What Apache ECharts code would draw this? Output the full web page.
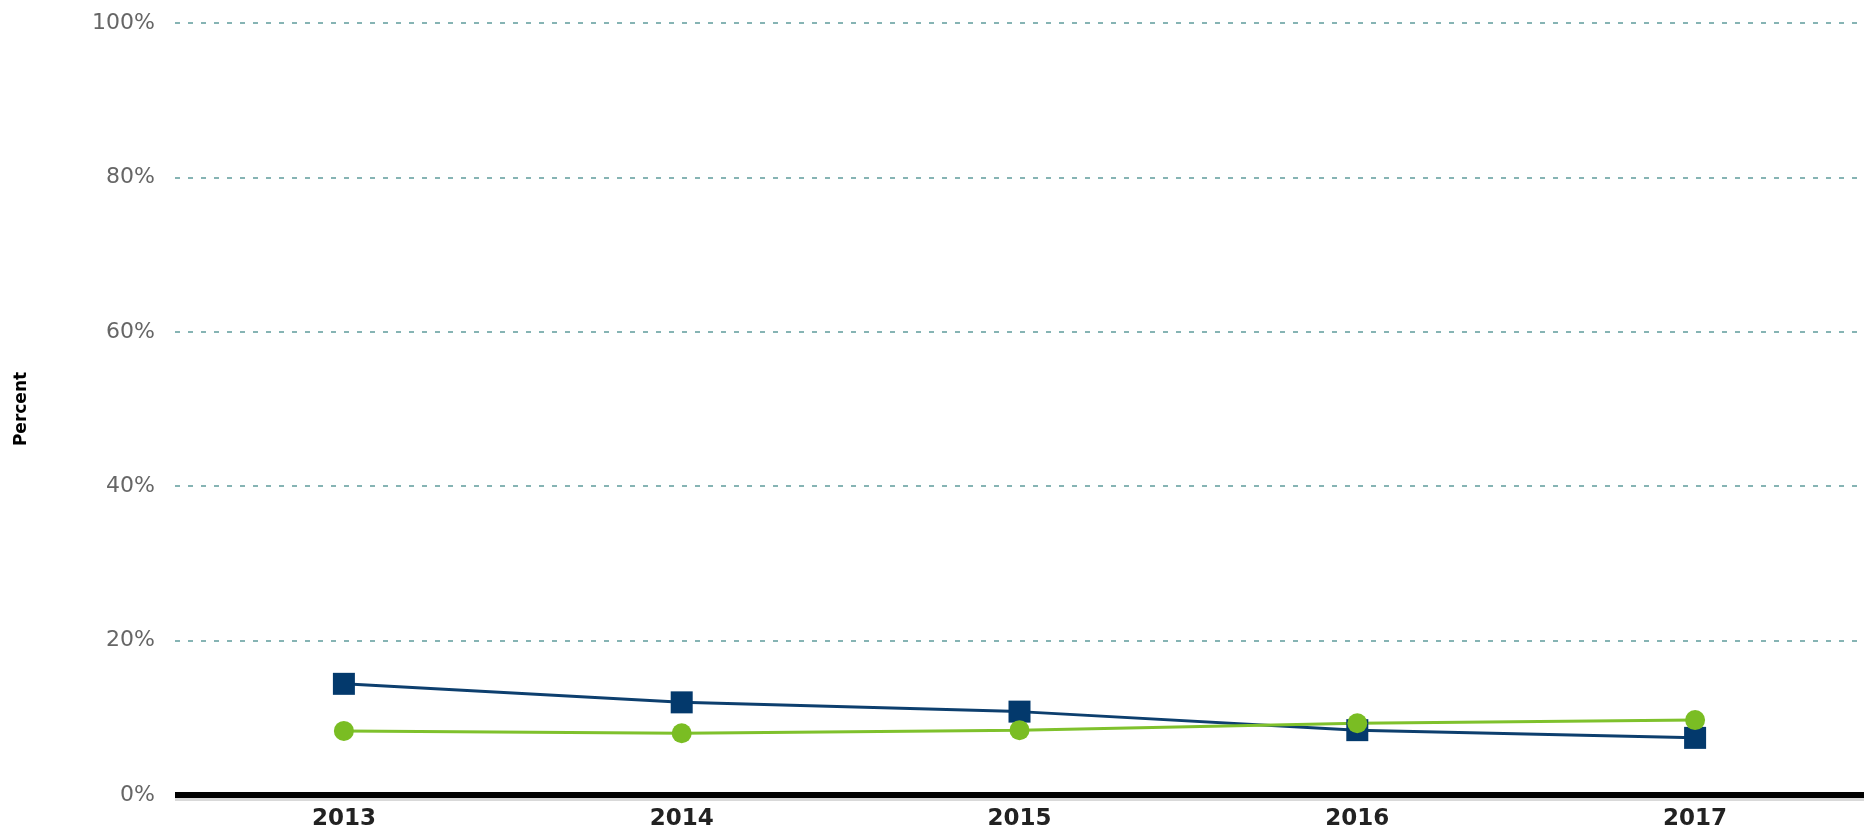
<!DOCTYPE html>
<html>
<head>
<meta charset="utf-8">
<script src="https://cdn.jsdelivr.net/npm/echarts@6/dist/echarts.min.js"></script>
<style>
  html, body { margin: 0; padding: 0; background: #fff; }
  #chart { width: 1872px; height: 835px; }
</style>
</head>
<body>
<div id="chart"></div>
<script>
// data
var years = ['2013', '2014', '2015', '2016', '2017'];
var navySeries = [14.4, 12.0, 10.8, 8.4, 7.4];
var greenSeries = [8.3, 8.0, 8.4, 9.3, 9.7];
var yTicks = [0, 20, 40, 60, 80, 100];

var chart = echarts.init(document.getElementById('chart'));

var option = {
    animation: false,
    grid: {
        left: 175,
        right: 8,
        top: 23,
        bottom: 40
    },
    xAxis: {
        type: 'category',
        data: years,
        boundaryGap: true,
        axisTick: { show: false },
        axisLine: {
            lineStyle: {
                color: '#000',
                width: 6,
                cap: 'butt',
                shadowColor: 'rgba(0,0,0,0.15)',
                shadowOffsetY: 3
            }
        },
        axisLabel: {
            color: '#222',
            fontFamily: 'DejaVu Sans',
            fontWeight: 'bold',
            fontSize: 23,
            margin: 13
        }
    },
    yAxis: {
        type: 'value',
        min: yTicks[0],
        max: yTicks[yTicks.length - 1],
        interval: 20,
        name: 'Percent',
        nameLocation: 'middle',
        nameGap: 145,
        nameRotate: 90,
        nameTextStyle: {
            color: '#000',
            fontFamily: 'DejaVu Sans',
            fontWeight: 'bold',
            fontSize: 17
        },
        axisLine: { show: false },
        axisTick: { show: false },
        axisLabel: {
            formatter: '{value}%',
            color: '#666',
            fontFamily: 'DejaVu Sans',
            fontSize: 22,
            margin: 20
        },
        splitLine: {
            lineStyle: {
                color: '#5f9c9c',
                width: 1.5,
                type: [5, 8]
            }
        }
    },
    series: [
        {
            name: 'series1',
            type: 'line',
            data: navySeries,
            symbol: 'rect',
            symbolSize: 22,
            color: '#03396c',
            lineStyle: { width: 3, color: '#0d3f6e' },
            itemStyle: { color: '#03396c' }
        },
        {
            name: 'series2',
            type: 'line',
            data: greenSeries,
            symbol: 'circle',
            symbolSize: 20,
            color: '#7abd23',
            lineStyle: { width: 3, color: '#7fc12c' },
            itemStyle: { color: '#7abd23' }
        }
    ]
};

chart.setOption(option);
</script>
</body>
</html>
